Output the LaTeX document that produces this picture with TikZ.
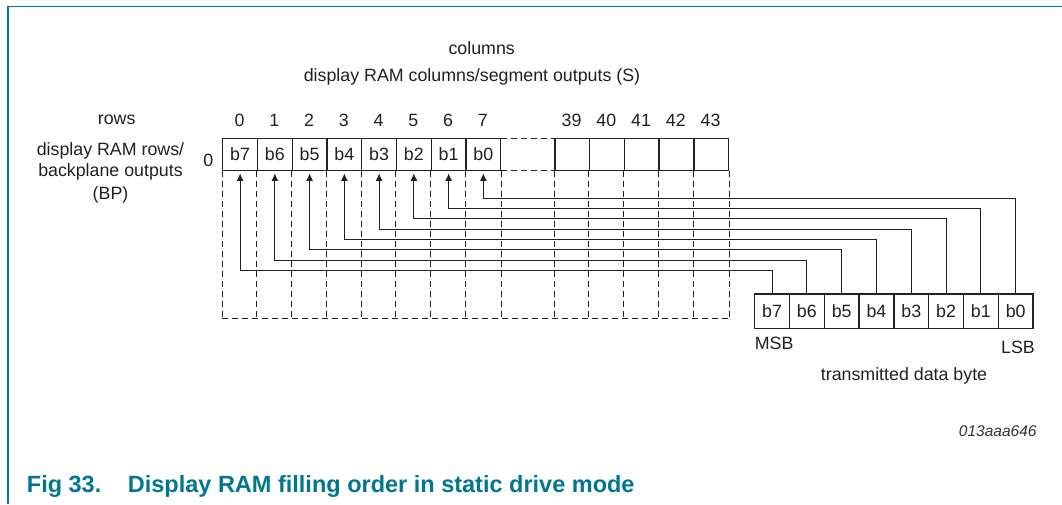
\documentclass[tikz,border=0pt]{standalone}
\usepackage{fontspec}
\setmainfont{Liberation Sans}
\usetikzlibrary{arrows.meta}
\definecolor{nxpteal}{RGB}{0,118,145}
\definecolor{idgray}{RGB}{50,50,50}
\definecolor{ink}{RGB}{35,31,32}
\begin{document}
\begin{tikzpicture}[x=1pt,y=-1pt,
  lbl/.style={font=\fontsize{17.8}{21}\selectfont, text=ink, inner sep=0pt, anchor=base},
  cellbox/.style={draw=ink, line width=1.3pt, minimum width=34.75pt, minimum height=31.6pt,
    inner sep=0pt, anchor=north west, font=\fontsize{17.8}{21}\selectfont, text=ink},
  bytebox/.style={cellbox, minimum width=34.8pt, minimum height=34.4pt},
  dsh/.style={draw=ink, line width=1pt, dash pattern=on 6pt off 4pt},
  conn/.style={draw=ink, line width=1pt, -{Latex[length=7.5pt,width=7pt]}, shorten >=2.5pt}]
\useasboundingbox (0,0) rectangle (1062,504);
% frame
\draw[nxpteal, line width=1.3pt] (8,504) -- (8,6.2) -- (1062,6.2);
% headings
\node[lbl] (colhead) at (481.7,54) {columns};
\node[lbl] (colsub) at (472,81) {display RAM columns/segment outputs (S)};
\node[lbl] (rows) at (116.7,124.5) {rows};
\node[lbl] (rl1) at (110.5,155) {display RAM rows/};
\node[lbl] (rl2) at (110.5,176.7) {backplane outputs};
\node[lbl] (rl3) at (110.5,199) {(BP)};
\node[lbl] (r0) at (208.3,166) {0};
% RAM cells
\foreach \k in {0,...,7} {
  \pgfmathtruncatemacro\b{7-\k}
  \node[cellbox] (t\k) at ({222.1+\k*34.75},138) {b\b};
  \node[lbl] (n\k) at ({222.1+(\k+0.5)*34.75},126) {\k};
}
\foreach \k in {39,...,43} {
  \node[cellbox] (t\k) at ({554.2+(\k-39)*34.75},138) {};
  \node[lbl] (n\k) at ({554.2+(\k-39+0.5)*34.75},126) {\k};
}
% dashed parts
\coordinate (gb) at (0,318);
\draw[dsh] (t7.north east) -- (t39.north west);
\draw[dsh] (t7.south east) -- (t39.south west);
\foreach \k in {0,...,7} {
  \draw[dsh] (t\k.south west) -- (t\k.south west |- gb);
}
\draw[dsh] (t7.south east) -- (t7.south east |- gb);
\foreach \k in {39,...,43} {
  \draw[dsh] (t\k.south west) -- (t\k.south west |- gb);
}
\draw[dsh] (t43.south east) -- (t43.south east |- gb);
\draw[dsh] (t0.south west |- gb) -- (t43.south east |- gb);
% data byte
\foreach \i in {0,...,7} {
  \pgfmathtruncatemacro\b{7-\i}
  \node[bytebox] (d\i) at ({754+\i*34.8},293.3) {b\b};
}
\node[lbl, anchor=base west] (msb) at (754.7,349) {MSB};
\node[lbl, anchor=base east] (lsb) at (1035,353) {LSB};
\node[lbl] (tdb) at (904,380) {transmitted data byte};
% connectors
\foreach \i in {0,...,7} {
  \pgfmathsetmacro\yy{198.3+(7-\i)*10.33}
  \coordinate (lv\i) at (0,\yy);
  \draw[conn] (d\i.north) |- (lv\i -| t\i.south) -- (t\i.south);
}
% id and caption
\node[font=\fontsize{15.5}{18}\selectfont\itshape, text=idgray, anchor=base east, inner sep=0pt] (figid) at (1036.7,436.7) {013aaa646};
\node[font=\fontsize{23.5}{28}\selectfont\bfseries, text=nxpteal, anchor=base west, inner sep=0pt] (fignum) at (26.7,492.3) {Fig 33.};
\node[font=\fontsize{23.5}{28}\selectfont\bfseries, text=nxpteal, anchor=base west, inner sep=0pt] (figtitle) at (127.7,492.3) {Display RAM filling order in static drive mode};
\end{tikzpicture}
\end{document}
